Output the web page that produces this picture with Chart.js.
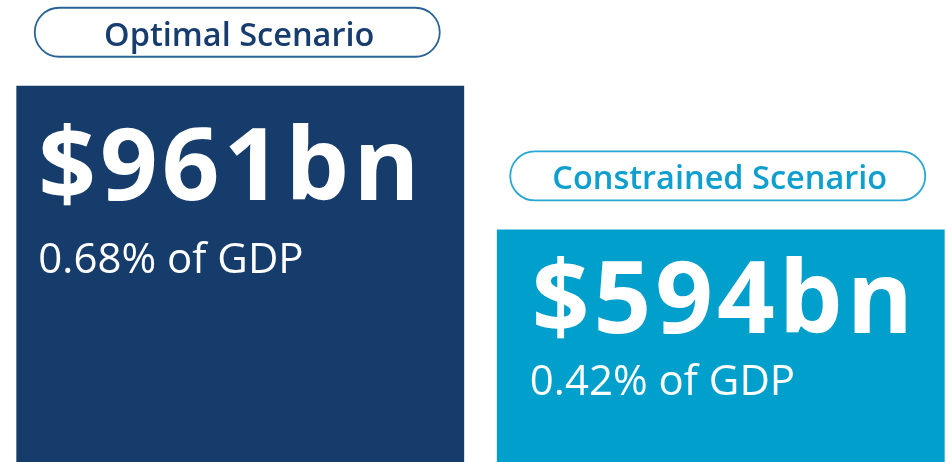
<!DOCTYPE html>
<html>
<head>
<meta charset="utf-8">
<script src="https://cdn.jsdelivr.net/npm/chart.js@4.4.1/dist/chart.umd.min.js"></script>
<style>
  html, body { margin: 0; padding: 0; background: #ffffff; overflow: hidden; }
  #wrap { width: 961px; height: 462px; }
</style>
</head>
<body>
<div id="wrap"><canvas id="myChart" width="961" height="462"></canvas></div>
<script>
// data
const scenarios = ["Optimal Scenario", "Constrained Scenario"];
const costBn = [961, 594];
const gdpShare = [0.68, 0.42];

// look
const barColors = ["#163c6c", "#009fcc"];
const pillTextColors = ["#173c6e", "#0e9fce"];
const pillBorderColors = ["#2a6496", "#2aa6d2"];
const pillWidths = [405, 415];
// offsets of the text inside each bar (from bar left / bar top)
const bigTextPos = [[22, 114], [35, 104]];
const smallTextPos = [[22, 187], [33, 166]];

function roundRect(ctx, x, y, w, h, r) {
  ctx.beginPath();
  ctx.moveTo(x + r, y);
  ctx.lineTo(x + w - r, y);
  ctx.arc(x + w - r, y + r, r, -Math.PI / 2, Math.PI / 2);
  ctx.lineTo(x + r, y + h);
  ctx.arc(x + r, y + r, r, Math.PI / 2, Math.PI * 1.5);
  ctx.closePath();
}

const labelPlugin = {
  id: "scenarioLabels",
  afterDatasetsDraw(chart) {
    const ctx = chart.ctx;
    const bars = chart.getDatasetMeta(0).data;
    bars.forEach(function (bar, i) {
      const left = bar.x - bar.width / 2;
      const top = bar.y;

      // pill over the bar
      const pw = pillWidths[i], ph = 49;
      const px = bar.x - pw / 2 - 3;
      const py = top - 29 - ph;
      ctx.save();
      roundRect(ctx, px, py, pw, ph, ph / 2);
      ctx.fillStyle = "#ffffff";
      ctx.fill();
      ctx.lineWidth = 1.8;
      ctx.strokeStyle = pillBorderColors[i];
      ctx.stroke();
      ctx.fillStyle = pillTextColors[i];
      ctx.font = "600 32.5px 'Open Sans'";
      ctx.textAlign = "center";
      ctx.textBaseline = "alphabetic";
      ctx.fillText(scenarios[i], px + pw / 2 + 2, py + 38);

      // value text inside the bar
      ctx.fillStyle = "#ffffff";
      ctx.textAlign = "left";
      ctx.font = "700 101px 'Open Sans'";
      ctx.letterSpacing = "4px";
      ctx.fillText("$" + costBn[i] + "bn", left + bigTextPos[i][0], top + bigTextPos[i][1]);
      ctx.letterSpacing = "0px";
      ctx.font = "400 42px 'Open Sans'";
      ctx.fillText(gdpShare[i].toFixed(2) + "% of GDP", left + smallTextPos[i][0], top + smallTextPos[i][1]);
      ctx.restore();
    });
  }
};

const ctx = document.getElementById("myChart");
const myChart = new Chart(ctx, {
  type: "bar",
  data: {
    labels: scenarios,
    datasets: [
      {
        data: costBn,
        backgroundColor: barColors,
        borderWidth: 0,
        categoryPercentage: 1,
        barPercentage: 0.932,
      },
    ],
  },
  options: {
    responsive: false,
    animation: false,
    scales: {
      x: { display: false },
      y: { display: false, min: 0, max: 1180 },
    },
    plugins: {
      legend: { display: false },
      tooltip: { enabled: false },
      title: { display: false },
    },
  },
  plugins: [labelPlugin],
});
</script>
</body>
</html>
